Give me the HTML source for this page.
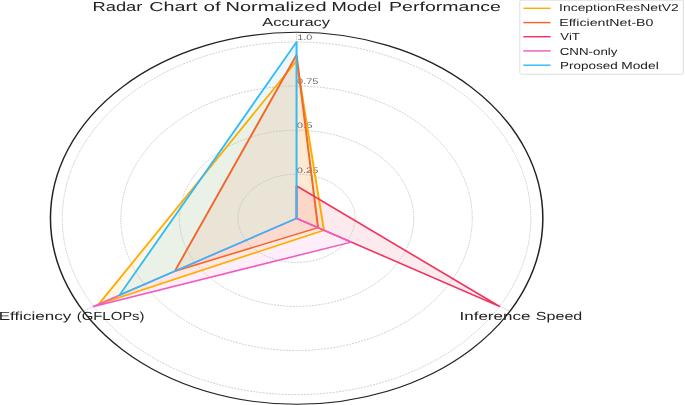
<!DOCTYPE html><html><head><meta charset="utf-8"><style>html,body{margin:0;padding:0;background:#fff;}svg{display:block;}text{font-family:"Liberation Sans",sans-serif;}</style></head><body>
<svg width="685" height="405" viewBox="0 0 685 405">
<rect width="685" height="405" fill="#fff"/>
<g style="will-change:transform" text-rendering="geometricPrecision">
<g transform="translate(296.55,218.3) scale(1,0.75245)">
<polygon points="0.00,-209.23 27.39,15.82 -197.84,114.22" fill="#FFAD00" fill-opacity="0.1" stroke="none"/>
<polygon points="0.00,-217.20 21.51,12.42 -121.75,70.29" fill="#F2672A" fill-opacity="0.1" stroke="none"/>
<polygon points="0.00,-43.11 202.91,117.15 -0.00,0.00" fill="#F0355F" fill-opacity="0.1" stroke="none"/>
<polygon points="0.00,-0.00 54.79,31.63 -202.91,117.15" fill="#F25CC0" fill-opacity="0.1" stroke="none"/>
<polygon points="0.00,-234.30 0.00,0.00 -177.14,102.27" fill="#33BBF6" fill-opacity="0.1" stroke="none"/>
<circle cx="0" cy="0" r="58.58" fill="none" stroke="#bdbdbd" stroke-width="0.9" stroke-dasharray="1.9 1.3"/>
<circle cx="0" cy="0" r="117.15" fill="none" stroke="#bdbdbd" stroke-width="0.9" stroke-dasharray="1.9 1.3"/>
<circle cx="0" cy="0" r="175.73" fill="none" stroke="#bdbdbd" stroke-width="0.9" stroke-dasharray="1.9 1.3"/>
<circle cx="0" cy="0" r="234.30" fill="none" stroke="#bdbdbd" stroke-width="0.9" stroke-dasharray="1.9 1.3"/>
<line x1="0" y1="0" x2="0.00" y2="-246.00" stroke="#bdbdbd" stroke-width="0.9" stroke-dasharray="1.9 1.3"/>
<line x1="0" y1="0" x2="213.04" y2="123.00" stroke="#bdbdbd" stroke-width="0.9" stroke-dasharray="1.9 1.3"/>
<line x1="0" y1="0" x2="-213.04" y2="123.00" stroke="#bdbdbd" stroke-width="0.9" stroke-dasharray="1.9 1.3"/>
</g>
<text x="297.28" y="40.0" font-size="8.0" fill="#6a6a6a" textLength="15.05" lengthAdjust="spacingAndGlyphs">1.0</text>
<text x="296.97" y="84.3" font-size="8.0" fill="#6a6a6a" textLength="21.39" lengthAdjust="spacingAndGlyphs">0.75</text>
<text x="296.76" y="128.2" font-size="8.0" fill="#6a6a6a" textLength="15.82" lengthAdjust="spacingAndGlyphs">0.5</text>
<text x="296.87" y="172.6" font-size="8.0" fill="#6a6a6a" textLength="21.50" lengthAdjust="spacingAndGlyphs">0.25</text>
<g transform="translate(296.55,218.3) scale(1,0.75245)">
<polygon points="0.00,-209.23 27.39,15.82 -197.84,114.22" fill="none" stroke="#FFAD00" stroke-width="2.0" stroke-linejoin="round"/>
<polygon points="0.00,-217.20 21.51,12.42 -121.75,70.29" fill="none" stroke="#F2672A" stroke-width="2.0" stroke-linejoin="round"/>
<polygon points="0.00,-43.11 202.91,117.15 -0.00,0.00" fill="none" stroke="#F0355F" stroke-width="2.0" stroke-linejoin="round"/>
<polygon points="0.00,-0.00 54.79,31.63 -202.91,117.15" fill="none" stroke="#F25CC0" stroke-width="2.0" stroke-linejoin="round"/>
<polygon points="0.00,-234.30 0.00,0.00 -177.14,102.27" fill="none" stroke="#33BBF6" stroke-width="2.0" stroke-linejoin="round"/>
<ellipse cx="0.10" cy="0.00" rx="246.2" ry="247.19" fill="none" stroke="#222" stroke-width="1.5"/>
</g>
<text x="262.37" y="25.7" font-size="11.7" fill="#222" textLength="67.66" lengthAdjust="spacingAndGlyphs">Accuracy</text>
<text x="-1.39" y="319.6" font-size="11.7" fill="#222" textLength="72.63" lengthAdjust="spacingAndGlyphs">Efficiency</text>
<text x="76.78" y="319.6" font-size="11.7" fill="#222" textLength="67.74" lengthAdjust="spacingAndGlyphs">(GFLOPs)</text>
<text x="459.53" y="319.6" font-size="11.7" fill="#222" textLength="70.82" lengthAdjust="spacingAndGlyphs">Inference</text>
<text x="535.87" y="319.6" font-size="11.7" fill="#222" textLength="46.36" lengthAdjust="spacingAndGlyphs">Speed</text>
<text x="92.60" y="10.9" font-size="13.0" fill="#222" textLength="49.80" lengthAdjust="spacingAndGlyphs">Radar</text>
<text x="149.30" y="10.9" font-size="13.0" fill="#222" textLength="48.14" lengthAdjust="spacingAndGlyphs">Chart</text>
<text x="203.53" y="10.9" font-size="13.0" fill="#222" textLength="17.24" lengthAdjust="spacingAndGlyphs">of</text>
<text x="225.56" y="10.9" font-size="13.0" fill="#222" textLength="101.03" lengthAdjust="spacingAndGlyphs">Normalized</text>
<text x="331.50" y="10.9" font-size="13.0" fill="#222" textLength="49.93" lengthAdjust="spacingAndGlyphs">Model</text>
<text x="389.10" y="10.9" font-size="13.0" fill="#222" textLength="111.77" lengthAdjust="spacingAndGlyphs">Performance</text>
<rect x="519.8" y="0.2" width="163.6" height="74" rx="1.5" fill="#fff" fill-opacity="0.8" stroke="#d6d6d6" stroke-width="0.8"/>
<line x1="523.3" y1="8.3" x2="550.6" y2="8.3" stroke="#FFAD00" stroke-width="1.45"/>
<text x="559.12" y="11.4" font-size="10.2" fill="#222" textLength="119.68" lengthAdjust="spacingAndGlyphs">InceptionResNetV2</text>
<line x1="523.3" y1="22.6" x2="550.6" y2="22.6" stroke="#F2672A" stroke-width="1.45"/>
<text x="559.24" y="26.0" font-size="10.2" fill="#222" textLength="94.21" lengthAdjust="spacingAndGlyphs">EfficientNet-B0</text>
<line x1="523.3" y1="36.7" x2="550.6" y2="36.7" stroke="#F0355F" stroke-width="1.45"/>
<text x="560.34" y="40.2" font-size="10.2" fill="#222" textLength="19.56" lengthAdjust="spacingAndGlyphs">ViT</text>
<line x1="523.3" y1="50.9" x2="550.6" y2="50.9" stroke="#F25CC0" stroke-width="1.45"/>
<text x="559.72" y="54.6" font-size="10.2" fill="#222" textLength="57.70" lengthAdjust="spacingAndGlyphs">CNN-only</text>
<line x1="523.3" y1="65.2" x2="550.6" y2="65.2" stroke="#33BBF6" stroke-width="1.45"/>
<text x="559.99" y="68.8" font-size="10.2" fill="#222" textLength="57.67" lengthAdjust="spacingAndGlyphs">Proposed</text>
<text x="621.27" y="68.8" font-size="10.2" fill="#222" textLength="37.45" lengthAdjust="spacingAndGlyphs">Model</text>
</g>
</svg></body></html>
